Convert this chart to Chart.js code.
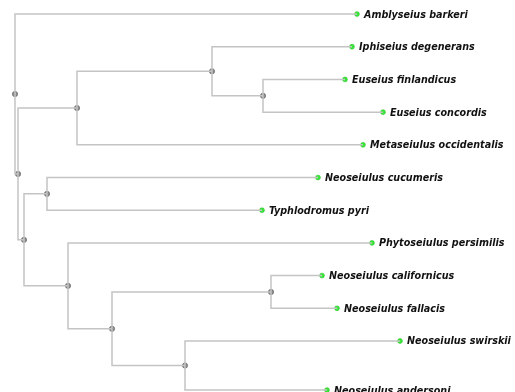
<!DOCTYPE html>
<html>
<head>
<meta charset="utf-8">
<script src="https://cdn.jsdelivr.net/npm/chart.js@4.4.1/dist/chart.umd.min.js"></script>
<style>
  html, body { margin: 0; padding: 0; background: #fff; }
  #wrap { width: 515px; height: 392px; }
</style>
</head>
<body>
<div id="wrap"><canvas id="treeChart" width="515" height="392"></canvas></div>
<script>
// leaves: name, branch depth (x) and row (y)
const leafNames = [
  'Amblyseius barkeri', 'Iphiseius degenerans', 'Euseius finlandicus',
  'Euseius concordis', 'Metaseiulus occidentalis', 'Neoseiulus cucumeris',
  'Typhlodromus pyri', 'Phytoseiulus persimilis', 'Neoseiulus californicus',
  'Neoseiulus fallacis', 'Neoseiulus swirskii', 'Neoseiulus andersoni'
];
const leafDepth = [342, 337, 330, 368, 348, 303, 247, 357, 307, 322, 385, 312];
const leafRow = [0, 1, 2, 3, 4, 5, 6, 7, 8, 9, 10, 11.5];

// internal nodes: depth and children (leaf index "L#" or node index "N#")
const nodeDepth = [0, 3, 62, 197, 248, 9, 32, 53, 97, 256, 170];
const nodeChildren = [
  ['L0', 'N1'],   // 0 root
  ['N2', 'N5'],   // 1
  ['N3', 'L4'],   // 2
  ['L1', 'N4'],   // 3
  ['L2', 'L3'],   // 4
  ['N6', 'N7'],   // 5
  ['L5', 'L6'],   // 6
  ['L7', 'N8'],   // 7
  ['N9', 'N10'],  // 8
  ['L8', 'L9'],   // 9
  ['L10', 'L11']  // 10
];

function getTreeColors() {
  return {
    branch: '#c4c4c4',
    node: '#8c8c8c',
    nodeBorder: '#6e6e6e',
    leaf: '#3be83b',
    leafBorder: '#22c422',
    text: '#111111'
  };
}

function pos(id) {
  const i = parseInt(id.slice(1), 10);
  if (id[0] === 'L') return { x: leafDepth[i], y: leafRow[i] };
  return { x: nodeDepth[i], y: nodeRow(i) };
}

// node row sits halfway between its two children
function nodeRow(i) {
  const ys = nodeChildren[i].map(c => pos(c).y);
  return (Math.min(...ys) + Math.max(...ys)) / 2;
}

function createTreeChart() {
  const canvas = document.getElementById('treeChart');
  const ctx = canvas.getContext('2d');
  const colors = getTreeColors();

  const datasets = [];
  nodeChildren.forEach((kids, i) => {
    const p = pos('N' + i);
    kids.forEach(k => {
      const c = pos(k);
      datasets.push({
        type: 'scatter',
        data: [{ x: p.x, y: p.y }, { x: p.x, y: c.y }, { x: c.x, y: c.y }],
        showLine: true,
        borderColor: colors.branch,
        borderWidth: 1.5,
        pointRadius: 0,
        pointHoverRadius: 0,
        tension: 0
      });
    });
  });

  datasets.push({
    type: 'scatter',
    data: nodeDepth.map((d, i) => ({ x: d, y: nodeRow(i) })),
    pointRadius: 2.6,
    backgroundColor: colors.node,
    borderColor: colors.nodeBorder,
    borderWidth: 0.8
  });

  datasets.push({
    type: 'scatter',
    data: leafDepth.map((d, i) => ({ x: d, y: leafRow[i] })),
    pointRadius: 2.4,
    backgroundColor: colors.leaf,
    borderColor: colors.leafBorder,
    borderWidth: 0.6
  });

  const leafLabels = {
    id: 'leafLabels',
    afterDatasetsDraw(chart) {
      const c = chart.ctx;
      const xs = chart.scales.x, ys = chart.scales.y;
      c.save();
      c.font = 'italic bold 9.6px "DejaVu Sans"';
      c.fillStyle = colors.text;
      c.textBaseline = 'middle';
      c.textAlign = 'left';
      leafNames.forEach((name, i) => {
        const px = xs.getPixelForValue(leafDepth[i]);
        const py = ys.getPixelForValue(leafRow[i]);
        c.fillText(name, px + 7, py + 1);
      });
      c.restore();
    }
  };

  new Chart(ctx, {
    type: 'scatter',
    data: { datasets },
    options: {
      responsive: false,
      animation: false,
      events: [],
      layout: { padding: 0, autoPadding: false },
      plugins: { legend: { display: false }, tooltip: { enabled: false } },
      scales: {
        x: { type: 'linear', display: false, min: -15, max: 500 },
        y: { type: 'linear', display: false, reverse: true, min: -0.43, max: 11.56 }
      }
    },
    plugins: [leafLabels]
  });
}

createTreeChart();
</script>
</body>
</html>
